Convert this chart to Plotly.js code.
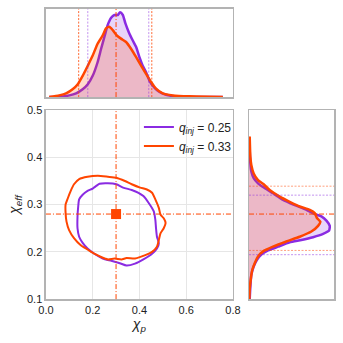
<!DOCTYPE html>
<html>
<head>
<meta charset="utf-8">
<script src="https://cdn.plot.ly/plotly-3.0.1.min.js"></script>
<style>
  html, body { margin: 0; padding: 0; background: #fff; }
  #chart { width: 343px; height: 343px; }
</style>
</head>
<body>
<div id="chart"></div>
<script>
// Colours of the two injections
const purple = "#8a2be2";
const orange = "#ff4500";

// Injected values
const injChiP = 0.3;
const injChiEff = 0.28;

// 90% contour, q_inj = 0.25
const contour25X = [0.214, 0.229, 0.265, 0.301, 0.33, 0.367, 0.396, 0.417, 0.439, 0.461, 0.468, 0.471, 0.475, 0.483, 0.475, 0.454, 0.417, 0.381, 0.345, 0.316, 0.28, 0.243, 0.207, 0.178, 0.157, 0.142, 0.135, 0.135, 0.138, 0.142, 0.157, 0.178, 0.2, 0.214];
const contour25Y = [0.339, 0.344, 0.345, 0.343, 0.336, 0.331, 0.325, 0.318, 0.304, 0.286, 0.268, 0.25, 0.232, 0.218, 0.207, 0.196, 0.184, 0.175, 0.171, 0.176, 0.181, 0.186, 0.196, 0.207, 0.219, 0.232, 0.25, 0.275, 0.296, 0.311, 0.321, 0.329, 0.334, 0.339];

// 90% contour, q_inj = 0.33
const contour33X = [0.178, 0.222, 0.265, 0.301, 0.338, 0.367, 0.403, 0.432, 0.454, 0.468, 0.483, 0.49, 0.504, 0.512, 0.504, 0.49, 0.483, 0.475, 0.454, 0.425, 0.381, 0.345, 0.323, 0.294, 0.265, 0.236, 0.207, 0.178, 0.149, 0.12, 0.099, 0.088, 0.084, 0.084, 0.094, 0.106, 0.12, 0.142, 0.178];
const contour33Y = [0.359, 0.361, 0.359, 0.357, 0.35, 0.343, 0.336, 0.332, 0.325, 0.311, 0.293, 0.279, 0.271, 0.261, 0.25, 0.239, 0.225, 0.211, 0.2, 0.193, 0.186, 0.187, 0.184, 0.186, 0.184, 0.189, 0.196, 0.205, 0.214, 0.229, 0.246, 0.264, 0.282, 0.3, 0.314, 0.329, 0.343, 0.354, 0.359];

// chi_p marginal (top)
const chiP25 = [0.014, 0.057, 0.1, 0.129, 0.157, 0.179, 0.2, 0.221, 0.236, 0.25, 0.264, 0.279, 0.293, 0.307, 0.317, 0.329, 0.34, 0.354, 0.371, 0.386, 0.4, 0.414, 0.429, 0.443, 0.464, 0.486, 0.514, 0.543, 0.586, 0.657, 0.757];
const dens25 = [0, 0.004, 0.019, 0.042, 0.088, 0.146, 0.241, 0.395, 0.548, 0.682, 0.816, 0.9, 0.931, 0.931, 0.962, 0.931, 0.835, 0.739, 0.644, 0.567, 0.452, 0.356, 0.28, 0.184, 0.107, 0.057, 0.027, 0.011, 0.004, 0, 0];
const chiP33 = [0.014, 0.057, 0.086, 0.114, 0.136, 0.157, 0.179, 0.2, 0.221, 0.243, 0.257, 0.271, 0.286, 0.303, 0.321, 0.343, 0.364, 0.386, 0.407, 0.429, 0.45, 0.471, 0.5, 0.543, 0.614, 0.757];
const dens33 = [0, 0.019, 0.042, 0.088, 0.146, 0.241, 0.356, 0.471, 0.605, 0.701, 0.778, 0.797, 0.759, 0.701, 0.663, 0.625, 0.548, 0.452, 0.356, 0.261, 0.172, 0.096, 0.042, 0.019, 0.008, 0];

// chi_eff marginal (right)
const chiEff25 = [0.415, 0.387, 0.37, 0.356, 0.345, 0.335, 0.324, 0.31, 0.299, 0.289, 0.28, 0.275, 0.266, 0.255, 0.245, 0.238, 0.231, 0.225, 0.22, 0.211, 0.203, 0.194, 0.183, 0.169, 0.151, 0.127, 0.1];
const densEff25 = [0.008, 0.016, 0.027, 0.055, 0.106, 0.184, 0.282, 0.4, 0.537, 0.675, 0.773, 0.851, 0.91, 0.949, 0.941, 0.871, 0.753, 0.616, 0.478, 0.341, 0.224, 0.145, 0.094, 0.055, 0.027, 0.016, 0.008];
const chiEff33 = [0.444, 0.401, 0.384, 0.366, 0.352, 0.344, 0.331, 0.317, 0.306, 0.296, 0.289, 0.282, 0.271, 0.264, 0.255, 0.243, 0.232, 0.222, 0.211, 0.201, 0.19, 0.176, 0.162, 0.141, 0.12, 0.1];
const densEff33 = [0.008, 0.016, 0.027, 0.055, 0.106, 0.165, 0.243, 0.361, 0.478, 0.596, 0.714, 0.773, 0.8, 0.839, 0.812, 0.733, 0.596, 0.439, 0.282, 0.165, 0.106, 0.067, 0.039, 0.02, 0.008, 0.004];

// 90% credible bounds
const chiPBounds25 = [0.179, 0.44];
const chiPBounds33 = [0.14, 0.453];
const chiEffBounds25 = [0.194, 0.32];
const chiEffBounds33 = [0.203, 0.339];

const labels = ["<i>q<sub>inj</sub></i> = 0.25", "<i>q<sub>inj</sub></i> = 0.33"];

const traces = [
  // main panel contours
  { x: contour25X, y: contour25Y, mode: "lines", name: labels[0],
    line: { color: purple, width: 2, shape: "spline", smoothing: 0.6 }, xaxis: "x", yaxis: "y" },
  { x: contour33X, y: contour33Y, mode: "lines", name: labels[1],
    line: { color: orange, width: 2, shape: "spline", smoothing: 0.6 }, xaxis: "x", yaxis: "y" },
  { x: [injChiP], y: [injChiEff], mode: "markers", showlegend: false,
    marker: { symbol: "square", size: 10, color: orange }, xaxis: "x", yaxis: "y" },

  // top marginal
  { x: chiP25, y: dens25, mode: "lines", fill: "tozeroy", fillcolor: "rgba(138,43,226,0.2)",
    line: { color: purple, width: 2.5, shape: "spline", smoothing: 0.5 }, showlegend: false, xaxis: "x2", yaxis: "y2" },
  { x: chiP33, y: dens33, mode: "lines", fill: "tozeroy", fillcolor: "rgba(255,69,0,0.2)",
    line: { color: orange, width: 2.5, shape: "spline", smoothing: 0.5 }, showlegend: false, xaxis: "x2", yaxis: "y2" },

  // right marginal
  { x: densEff25, y: chiEff25, mode: "lines", fill: "tozerox", fillcolor: "rgba(138,43,226,0.2)",
    line: { color: purple, width: 2.5, shape: "spline", smoothing: 0.5 }, showlegend: false, xaxis: "x3", yaxis: "y3" },
  { x: densEff33, y: chiEff33, mode: "lines", fill: "tozerox", fillcolor: "rgba(255,69,0,0.2)",
    line: { color: orange, width: 2.5, shape: "spline", smoothing: 0.5 }, showlegend: false, xaxis: "x3", yaxis: "y3" }
];

// reference lines
const dashDot = "5px,2px,1px,2px";
const shortDash = "2px,1.5px";
const shapes = [];
function vline(xref, yref, x, color, dash, opacity) {
  shapes.push({ type: "line", xref: xref, yref: yref + " domain", x0: x, x1: x, y0: 0, y1: 1,
    line: { color: color, width: 1, dash: dash }, opacity: opacity, layer: "above" });
}
function hline(xref, yref, y, color, dash, opacity) {
  shapes.push({ type: "line", xref: xref + " domain", yref: yref, x0: 0, x1: 1, y0: y, y1: y,
    line: { color: color, width: 1, dash: dash }, opacity: opacity, layer: "above" });
}
vline("x", "y", injChiP, orange, dashDot, 1);
hline("x", "y", injChiEff, orange, dashDot, 1);
vline("x2", "y2", injChiP, orange, dashDot, 1);
hline("x3", "y3", injChiEff, orange, dashDot, 1);
chiPBounds25.forEach(v => vline("x2", "y2", v, purple, shortDash, 0.5));
chiPBounds33.forEach(v => vline("x2", "y2", v, orange, shortDash, 0.8));
chiEffBounds25.forEach(v => hline("x3", "y3", v, purple, shortDash, 0.5));
chiEffBounds33.forEach(v => hline("x3", "y3", v, orange, shortDash, 0.5));

const frame = { showline: true, mirror: true, linecolor: "#b3b3b3", linewidth: 1.5 };
const font = { family: "Liberation Sans, Arial, sans-serif", size: 11, color: "#222" };

const layout = {
  width: 343, height: 343,
  margin: { l: 0, r: 0, t: 0, b: 0 },
  paper_bgcolor: "#fff", plot_bgcolor: "#fff",
  font: font,
  showlegend: true,
  legend: { x: 0.405, y: 0.672, xanchor: "left", yanchor: "top", bgcolor: "rgba(0,0,0,0)",
    font: { size: 12 }, itemwidth: 30, tracegroupgap: 0 },
  xaxis: Object.assign({}, frame, {
    domain: [0.134, 0.679], range: [0, 0.8], dtick: 0.2, tickformat: ".1f",
    showgrid: true, gridcolor: "#e6e6e6", zeroline: false, ticks: "",
    title: { text: "<i>χ<sub>p</sub></i>", font: { size: 14 }, standoff: 2 }, anchor: "y"
  }),
  yaxis: Object.assign({}, frame, {
    domain: [0.128, 0.679], range: [0.1, 0.5], dtick: 0.1, tickformat: ".1f",
    showgrid: true, gridcolor: "#e6e6e6", zeroline: false, ticks: "",
    title: { text: "<i>χ<sub>eff</sub></i>", font: { size: 14 }, standoff: 4 }, anchor: "x"
  }),
  xaxis2: Object.assign({}, frame, {
    domain: [0.134, 0.679], range: [0, 0.8], showticklabels: false, showgrid: false,
    zeroline: false, ticks: "", anchor: "y2"
  }),
  yaxis2: Object.assign({}, frame, {
    domain: [0.717, 0.974], range: [0, 1.0], showticklabels: false, showgrid: false,
    zeroline: false, ticks: "", anchor: "x2"
  }),
  xaxis3: Object.assign({}, frame, {
    domain: [0.726, 0.974], range: [0, 1.0], showticklabels: false, showgrid: false,
    zeroline: false, ticks: "", anchor: "y3"
  }),
  yaxis3: Object.assign({}, frame, {
    domain: [0.128, 0.679], range: [0.1, 0.5], showticklabels: false, showgrid: false,
    zeroline: false, ticks: "", anchor: "x3"
  }),
  shapes: shapes
};

Plotly.newPlot("chart", traces, layout, { displayModeBar: false, staticPlot: true });
</script>
</body>
</html>
